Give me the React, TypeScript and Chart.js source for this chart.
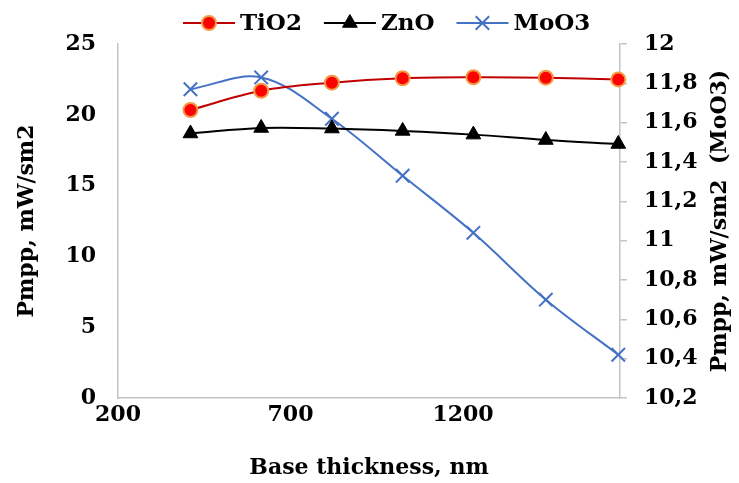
import React, { useEffect, useRef } from 'react';
import { Chart, registerables } from 'chart.js';
import { drawPoint } from 'chart.js/helpers';

Chart.register(...registerables);

// ---- data ----
const THICKNESS = [410, 615, 820, 1025, 1230, 1440, 1650];
const TIO2 = [20.34, 21.7, 22.27, 22.58, 22.65, 22.62, 22.5];
const ZNO = [18.68, 19.07, 19.03, 18.86, 18.6, 18.22, 17.94];
const MOO3 = [11.77, 11.83, 11.62, 11.33, 11.04, 10.7, 10.42];
const SERIES_NAMES = ['TiO2', 'ZnO', 'MoO3'];
const X_TICKS = [200, 700, 1200];
const LEFT_TICKS = [0, 5, 10, 15, 20, 25];
const RIGHT_TICKS = [10.2, 10.4, 10.6, 10.8, 11, 11.2, 11.4, 11.6, 11.8, 12];
const X_TITLE = 'Base thickness, nm';
const LEFT_TITLE = 'Pmpp, mW/sm2';
const RIGHT_TITLE = 'Pmpp, mW/sm2  (MoO3)';

const FAMILY = '"DejaVu Serif", serif';
const FS = 22;
const GREY = '#c4c4c4';
const W = 739;
const H = 483;

const fmt = (v: number) => String(Math.round(v * 10) / 10).replace('.', ',');

const overlayPlugin = {
  id: 'overlay',
  afterDraw(chart: any) {
    const ctx = chart.ctx;
    ctx.save();
    ctx.font = `bold 23px ${FAMILY}`;
    ctx.textBaseline = 'middle';
    ctx.textAlign = 'left';
    let x = 183;
    const y = 23;
    chart.data.datasets.forEach((ds: any) => {
      ctx.strokeStyle = ds.borderColor;
      ctx.lineWidth = 2;
      ctx.beginPath();
      ctx.moveTo(x, y);
      ctx.lineTo(x + 52, y);
      ctx.stroke();
      ctx.fillStyle = ds.pointBackgroundColor;
      ctx.strokeStyle = ds.pointBorderColor;
      ctx.lineWidth = ds.pointBorderWidth;
      drawPoint(ctx, { pointStyle: ds.pointStyle, radius: ds.pointRadius, rotation: 0, borderWidth: ds.pointBorderWidth }, x + 26, y);
      ctx.fillStyle = '#000';
      ctx.fillText(ds.label, x + 57, y + 1);
      x += 57 + ctx.measureText(ds.label).width + 22;
    });
    // right axis title, reading bottom-to-top
    const area = chart.chartArea;
    ctx.font = `bold ${FS}px ${FAMILY}`;
    ctx.translate(720, (area.top + area.bottom) / 2);
    ctx.rotate(-Math.PI / 2);
    ctx.textAlign = 'center';
    ctx.fillStyle = '#000';
    ctx.fillText(RIGHT_TITLE, 0, 0);
    ctx.restore();
  },
};

export default function App() {
  const ref = useRef<HTMLCanvasElement | null>(null);

  useEffect(() => {
    if (!ref.current) return;
    const font = { family: FAMILY, size: FS, weight: 'bold' as const };
    const chart = new Chart(ref.current, {
      type: 'line',
      data: {
        datasets: [
          {
            label: SERIES_NAMES[0],
            data: THICKNESS.map((x, i) => ({ x, y: TIO2[i] })),
            yAxisID: 'y',
            borderColor: '#C00000',
            borderWidth: 2,
            pointStyle: 'circle',
            pointRadius: 7,
            pointBackgroundColor: '#FF0000',
            pointBorderColor: '#F29A45',
            pointBorderWidth: 2,
            tension: 0.35,
            clip: false,
          },
          {
            label: SERIES_NAMES[1],
            data: THICKNESS.map((x, i) => ({ x, y: ZNO[i] })),
            yAxisID: 'y',
            borderColor: '#000000',
            borderWidth: 2,
            pointStyle: 'triangle',
            pointRadius: 8.5,
            pointBackgroundColor: '#000000',
            pointBorderColor: '#000000',
            pointBorderWidth: 1,
            tension: 0.35,
            clip: false,
          },
          {
            label: SERIES_NAMES[2],
            data: THICKNESS.map((x, i) => ({ x, y: MOO3[i] })),
            yAxisID: 'y2',
            borderColor: '#4472C4',
            borderWidth: 2,
            pointStyle: 'crossRot',
            pointRadius: 9.5,
            pointBackgroundColor: '#4472C4',
            pointBorderColor: '#4472C4',
            pointBorderWidth: 2,
            tension: 0.35,
            clip: false,
          },
        ] as any,
      },
      options: {
        responsive: false,
        animation: false,
        events: [],
        layout: { padding: { top: 44, left: 0, right: 0, bottom: 0 } },
        plugins: {
          legend: { display: false },
          tooltip: { enabled: false },
        },
        scales: {
          x: {
            type: 'linear',
            position: 'bottom',
            min: 200,
            max: 1655,
            afterBuildTicks: (s: any) => {
              s.ticks = X_TICKS.map((v) => ({ value: v }));
            },
            afterFit: (s: any) => {
              s.height = 85;
            },
            grid: { display: false, drawTicks: false },
            border: { display: true, color: GREY, width: 1.5 },
            ticks: { font, color: '#000', padding: 4, maxRotation: 0, callback: (v: any) => String(v) },
            title: { display: true, text: X_TITLE, font, color: '#000', padding: { top: 4, bottom: 2 } },
          },
          y: {
            type: 'linear',
            position: 'left',
            min: 0,
            max: 25,
            afterBuildTicks: (s: any) => {
              s.ticks = LEFT_TICKS.map((v) => ({ value: v }));
            },
            afterFit: (s: any) => {
              s.width = 118;
            },
            grid: { display: false, drawTicks: false },
            border: { display: true, color: GREY, width: 1.5 },
            ticks: { font, color: '#000', padding: 22, callback: (v: any) => String(v) },
            title: { display: true, text: LEFT_TITLE, font, color: '#000', padding: { top: 14, bottom: 0 } },
          },
          y2: {
            type: 'linear',
            position: 'right',
            min: 10.2,
            max: 12,
            afterBuildTicks: (s: any) => {
              s.ticks = RIGHT_TICKS.map((v) => ({ value: v }));
            },
            afterFit: (s: any) => {
              s.width = W - 620;
            },
            grid: { display: true, drawOnChartArea: false, drawTicks: true, tickLength: 7, color: GREY, lineWidth: 1.5 },
            border: { display: true, color: GREY, width: 1.5 },
            ticks: { font, color: '#000', padding: 17, callback: (v: any) => fmt(Number(v)) },
            title: { display: false },
          },
        },
      } as any,
      plugins: [overlayPlugin],
    });
    return () => chart.destroy();
  }, []);

  return (
    <div style={{ position: 'fixed', left: 0, top: 0, width: W, height: H, background: '#fff' }}>
      <canvas ref={ref} width={W} height={H} />
    </div>
  );
}
